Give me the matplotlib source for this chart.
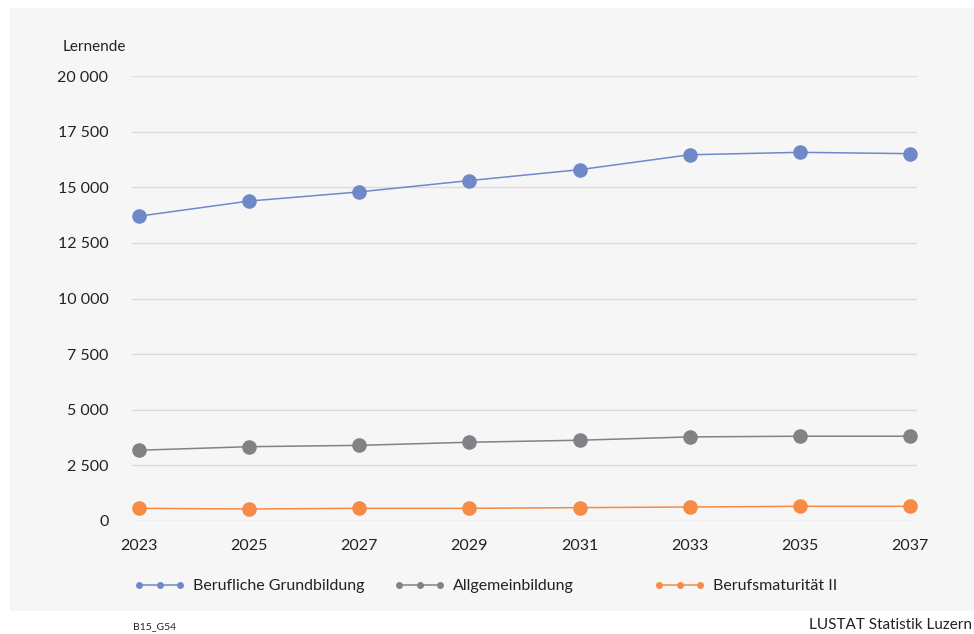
import matplotlib
matplotlib.use("Agg")
import matplotlib.pyplot as plt
from matplotlib.lines import Line2D

years = [2023, 2025, 2027, 2029, 2031, 2033, 2035, 2037]
berufliche = [13700, 14380, 14790, 15300, 15790, 16460, 16570, 16510]
allgemein = [3180, 3340, 3400, 3540, 3630, 3780, 3810, 3810]
bm2 = [570, 540, 570, 570, 600, 630, 660, 660]
series_names = ["Berufliche Grundbildung", "Allgemeinbildung", "Berufsmaturität II"]
colors = ["#6f89c8", "#818285", "#f68b45"]
yticks = [0, 2500, 5000, 7500, 10000, 12500, 15000, 17500, 20000]

plt.rcParams['font.family'] = ['Lato', 'DejaVu Sans']
W, H = 974, 634
fig = plt.figure(figsize=(W/100, H/100), dpi=100)
fig.patch.set_facecolor("white")

bg = fig.add_axes([10/W, 1-611/H, 1-10/W, (611-8)/H], zorder=-10)
bg.set_facecolor("#f6f6f6")
bg.set_xticks([])
bg.set_yticks([])
for s in bg.spines.values():
    s.set_visible(False)

ax = fig.add_axes([132/W, 1-521/H, (917-132)/W, (521-76)/H], zorder=1)
ax.set_facecolor("none")
for vals, c in zip([berufliche, allgemein, bm2], colors):
    ax.plot(years, vals, color=c, lw=1.1, marker="o", markersize=10.5,
            markeredgewidth=0, zorder=3)

ax.set_ylim(0, 20000)
ax.set_xlim(2023 - 0.127, 2037 + 0.127)
ax.set_yticks(yticks)
ax.set_yticklabels([f"{v:,}".replace(",", " ") for v in yticks])
ax.set_xticks(years)
ax.set_xticklabels([str(y) for y in years])
ax.tick_params(axis="both", length=0, labelsize=11.5, colors="#222222")
ax.tick_params(axis="y", pad=17)
ax.tick_params(axis="x", pad=13)
ax.grid(axis="y", color="#dcdcdc", lw=1)
ax.set_axisbelow(True)
for s in ax.spines.values():
    s.set_visible(False)

fig.text(63/W, 1-47/H, "Lernende", fontsize=11, color="#222222", va="center", ha="left")

handles = [Line2D([0], [0], color=c, lw=1.1, marker="o", markersize=5,
                  markeredgewidth=0) for c in colors]
xs = [139, 399, 659]
for h, name, x in zip(handles, series_names, xs):
    leg = fig.legend([h], [name], loc="center left",
                     bbox_to_anchor=(x/W - 0.005, 1-586/H), frameon=False,
                     numpoints=3, handlelength=3.2, handletextpad=0.5,
                     fontsize=11.5, borderaxespad=0, borderpad=0)
    for t in leg.get_texts():
        t.set_color("#222222")

fig.text(133/W, 1-627/H, "B15_G54", fontsize=7.5, color="#222222", va="center", ha="left")
fig.text(972/W, 1-625/H, "LUSTAT Statistik Luzern", fontsize=11, color="#222222",
         va="center", ha="right")

fig.savefig("out.png", dpi=100, facecolor="white")
